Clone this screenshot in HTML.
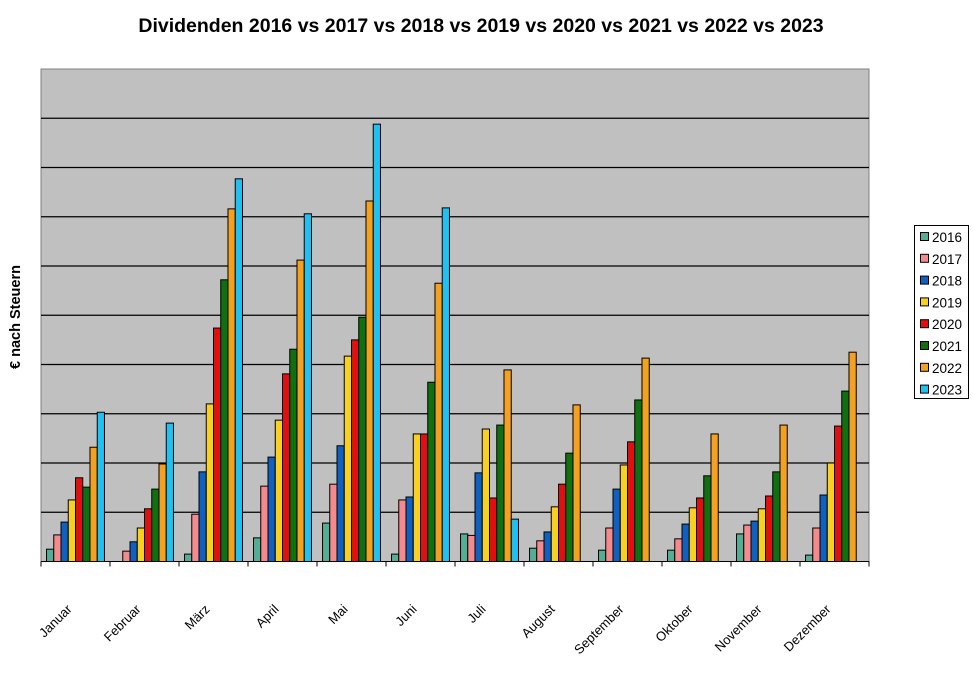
<!DOCTYPE html>
<html><head><meta charset="utf-8"><style>
body{margin:0;background:#fff;font-family:"Liberation Sans",Arial,sans-serif}
svg{display:block}
</style></head><body>
<svg id="chart" width="973" height="680" xmlns="http://www.w3.org/2000/svg" font-family="Liberation Sans, Arial, sans-serif">
<text x="481" y="32" text-anchor="middle" font-size="19.5" font-weight="bold">Dividenden 2016 vs 2017 vs 2018 vs 2019 vs 2020 vs 2021 vs 2022 vs 2023</text>
<text transform="translate(20,317) rotate(-90)" text-anchor="middle" font-size="14.5" font-weight="bold">€ nach Steuern</text>
<rect x="41" y="69" width="828" height="492.5" fill="#c0c0c0" stroke="#808080" stroke-width="1"/>
<g id="grid"></g><g id="bars"></g><g id="xaxis"></g>
<g id="legend"><rect x="914.5" y="225.5" width="54" height="173" fill="#fff" stroke="#000"/></g>
</svg>
<script>
const categories=["Januar","Februar","März","April","Mai","Juni","Juli","August","September","Oktober","November","Dezember"];
const seriesNames=["2016","2017","2018","2019","2020","2021","2022","2023"];
const colors=["#52ae94","#f48a8c","#1060c0","#f8d020","#e01010","#107010","#f4a020","#20c0f0"];
const v2016=[0.25,0,0.15,0.48,0.78,0.15,0.56,0.27,0.23,0.23,0.56,0.13];
const v2017=[0.54,0.21,0.96,1.53,1.57,1.25,0.53,0.42,0.68,0.46,0.74,0.68];
const v2018=[0.80,0.40,1.82,2.12,2.35,1.31,1.80,0.60,1.47,0.76,0.82,1.35];
const v2019=[1.25,0.68,3.20,2.87,4.17,2.59,2.69,1.11,1.96,1.09,1.07,2.00];
const v2020=[1.70,1.07,4.74,3.81,4.50,2.59,1.29,1.57,2.43,1.29,1.33,2.75];
const v2021=[1.51,1.47,5.72,4.31,4.96,3.64,2.77,2.20,3.28,1.74,1.82,3.46];
const v2022=[2.32,1.98,7.16,6.12,7.32,5.65,3.89,3.18,4.13,2.59,2.77,4.25];
const v2023=[3.03,2.81,7.77,7.06,8.88,7.18,0.86,0,0,0,0,0];
const yTicks=[1,2,3,4,5,6,7,8,9];
const yMax=10;
const series=[v2016,v2017,v2018,v2019,v2020,v2021,v2022,v2023];
const NS="http://www.w3.org/2000/svg";
const X0=41,W=828,Y0=561.5,H=492.5;
const catW=W/categories.length;
const y=v=>Y0-v/yMax*H;
const xCat=i=>X0+i*catW;
function mk(t,a,p){const e=document.createElementNS(NS,t);for(const k in a)e.setAttribute(k,a[k]);p.appendChild(e);return e;}
const grid=document.getElementById('grid');
yTicks.forEach(t=>{const l=mk('line',{x1:X0,x2:X0+W,y1:y(t),y2:y(t),stroke:'#000','stroke-width':1.3},grid);

});
const bars=document.getElementById('bars');
const bw=catW*0.105, off=(catW-bw*8)/2;
series.forEach((s,si)=>{s.forEach((v,ci)=>{if(v<=0)return;
const r=mk('rect',{x:xCat(ci)+off+si*bw,y:y(v),width:bw,height:Y0-y(v),fill:colors[si],stroke:'#000','stroke-width':1},bars);

});});
const xa=document.getElementById('xaxis');
mk('line',{x1:X0,x2:X0+W,y1:Y0,y2:Y0,stroke:'#000'},xa);
for(let i=0;i<=categories.length;i++){mk('line',{x1:xCat(i),x2:xCat(i),y1:Y0,y2:Y0+5,stroke:'#000'},xa);}
categories.forEach((c,i)=>{const cx=xCat(i)+catW/2-3;
const t=mk('text',{transform:`translate(${cx},${610}) rotate(-45)`,'text-anchor':'end','font-size':13},xa);
t.textContent=c;

});
const lg=document.getElementById('legend');
seriesNames.forEach((n,i)=>{const cy=237+i*21.8;
const sw=mk('rect',{x:920.5,y:cy-4.5,width:8,height:8,fill:colors[i],stroke:'#000'},lg);


const t=mk('text',{x:932,y:cy+5,'font-size':13.5},lg);t.textContent=n;

});
</script>
</body></html>
